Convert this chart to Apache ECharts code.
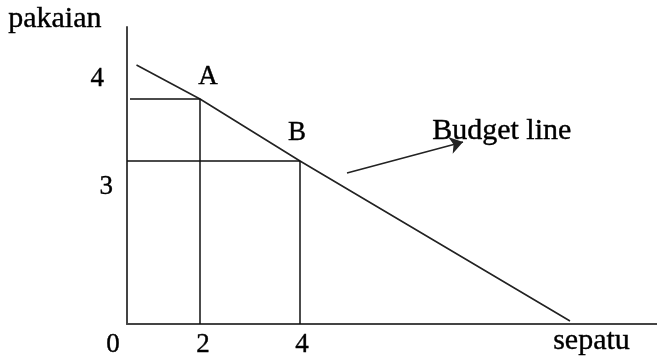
<!DOCTYPE html>
<html>
<head>
<meta charset="utf-8">
<script src="https://cdn.jsdelivr.net/npm/echarts@6/dist/echarts.min.js"></script>
<style>
  html, body { margin: 0; padding: 0; background: #fff; }
  #chart { width: 657px; height: 360px; }
</style>
</head>
<body>
<div id="chart"></div>
<script>
// drawing units: schematic diagram, ticks are not to scale
const X_MAX = 10.6
const Y_MAX = 5.94

const budgetLine = [[0.19, 5.18], [1.46, 4.5], [3.46, 3.26], [8.86, 0.06]]
const guideA = [[0.06, 4.5], [1.46, 4.5], [1.46, 0]]
const guideB = [[0, 3.26], [3.46, 3.26], [3.46, 0]]
const pointNames = ['A', 'B']
const pointValues = [[1.46, 4.5], [3.46, 3.26]]
const arrowLine = [[4.4, 3.02], [6.72, 3.64]]

const xTickValues = [0, 1.52, 3.5]
const xTickLabels = ['0', '2', '4']
const yTickValues = [2.74, 4.9]
const yTickLabels = ['3', '4']

const FONT = '"Liberation Serif", "Times New Roman", serif'
const INK = '#000'
const THICK = { textBorderColor: '#000', textBorderWidth: 0.4 }

const chart = echarts.init(document.getElementById('chart'), null, { renderer: 'canvas' })

const option = {
  animation: false,
  backgroundColor: '#fff',
  grid: { left: 127, right: 0, top: 27, bottom: 36 },
  xAxis: {
    type: 'value',
    min: 0,
    max: X_MAX,
    splitLine: { show: false },
    axisTick: { show: false },
    axisLine: { lineStyle: { color: '#444', width: 2 } },
    axisLabel: {
      customValues: xTickValues,
      margin: 7,
      color: INK,
      fontFamily: FONT,
      fontSize: 27,
      ...THICK,
      formatter: (v) => {
        const i = xTickValues.indexOf(v)
        const text = i >= 0 ? xTickLabels[i] : ''
        return i === 0 ? '{z|' + text + '}' : text
      },
      rich: {
        z: { padding: [0, 28, 0, 0], fontFamily: FONT, fontSize: 27, color: INK, ...THICK }
      }
    }
  },
  yAxis: {
    type: 'value',
    min: 0,
    max: Y_MAX,
    splitLine: { show: false },
    axisTick: { show: false },
    axisLine: { lineStyle: { color: '#444', width: 2 } },
    axisLabel: {
      customValues: yTickValues,
      margin: 14,
      color: INK,
      fontFamily: FONT,
      fontSize: 27,
      ...THICK,
      formatter: (v) => {
        const i = yTickValues.indexOf(v)
        const text = i >= 0 ? yTickLabels[i] : ''
        return text === '4' ? '{f|' + text + '}' : text
      },
      rich: {
        f: { padding: [0, 9, 0, 0], fontFamily: FONT, fontSize: 27, color: INK, ...THICK }
      }
    }
  },
  graphic: [
    {
      type: 'text',
      left: 8,
      top: 4,
      style: { text: 'pakaian', font: '30px ' + FONT, fill: INK, stroke: '#000', lineWidth: 0.4 }
    },
    {
      type: 'text',
      left: 553,
      top: 326,
      style: { text: 'sepatu', font: '30px ' + FONT, fill: INK, stroke: '#000', lineWidth: 0.4 }
    },
    {
      type: 'text',
      left: 432,
      top: 116,
      style: { text: 'Budget line', font: '30px ' + FONT, fill: INK, stroke: '#000', lineWidth: 0.4 }
    }
  ],
  series: [
    {
      type: 'line',
      data: budgetLine,
      symbol: 'none',
      lineStyle: { color: '#222', width: 1.6 },
      z: 3
    },
    {
      type: 'line',
      data: guideA,
      symbol: 'none',
      lineStyle: { color: '#111', width: 1.5 }
    },
    {
      type: 'line',
      data: guideB,
      symbol: 'none',
      lineStyle: { color: '#111', width: 1.5 }
    },
    {
      type: 'scatter',
      symbolSize: 0,
      itemStyle: { opacity: 1 },
      data: pointValues.map((v, i) => ({ name: pointNames[i], value: v })),
      label: {
        show: true,
        formatter: '{b}',
        color: INK,
        fontFamily: FONT,
        fontSize: 27,
        position: 'inside',
        ...THICK
      },
      labelLayout: (params) => {
        const offs = params.dataIndex === 0 ? [8, -22] : [-3, -28]
        return { dx: offs[0], dy: offs[1] }
      }
    },
    {
      type: 'lines',
      coordinateSystem: 'cartesian2d',
      data: [{ coords: arrowLine }],
      symbol: ['none', 'arrow'],
      symbolSize: 13,
      lineStyle: { color: '#222', width: 1.6, opacity: 1 }
    }
  ]
}

chart.setOption(option)
</script>
</body>
</html>
